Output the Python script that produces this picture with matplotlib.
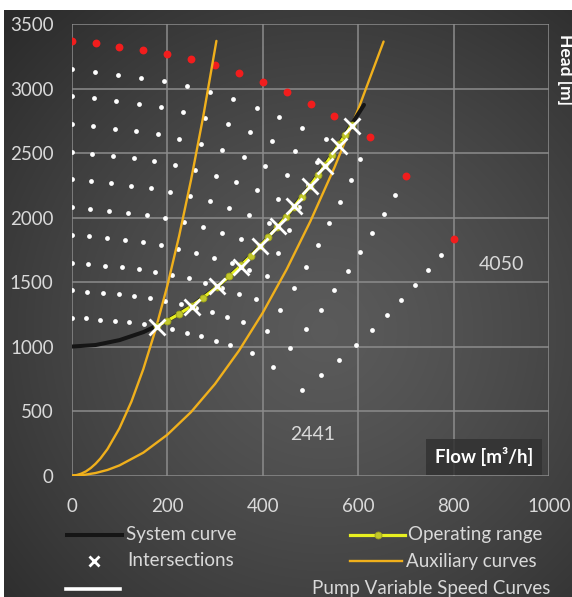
"""
Pump operating range at variable speed: speed curves, system curve,
auxiliary (affinity) parabolas and their intersections.
"""

import numpy as np
import matplotlib
matplotlib.use('Agg')
import matplotlib.pyplot as plt
from matplotlib.lines import Line2D

plt.rcParams['font.family'] = ['Lato', 'DejaVu Sans']

# pump head curves, one row per speed (rpm), top row is the max speed
SPEEDS = [4050, 3916, 3783, 3642, 3495, 3342, 3182, 3013, 2834, 2643, 2441]

PUMP_FLOW = [
    [0, 50, 100, 150, 200, 250, 300, 350, 400, 450, 500, 550, 625, 700, 800],
    [0, 48, 97, 145, 193, 242, 290, 338, 387, 435, 483, 532, 604, 677, 773],
    [0, 47, 93, 140, 187, 234, 280, 327, 374, 420, 467, 514, 584, 654, 747],
    [0, 45, 90, 135, 180, 225, 270, 315, 360, 405, 450, 495, 562, 629, 719],
    [0, 43, 86, 130, 173, 216, 259, 302, 345, 388, 432, 475, 539, 604, 690],
    [0, 41, 83, 124, 165, 206, 248, 289, 330, 371, 413, 454, 516, 578, 660],
    [0, 39, 79, 118, 157, 196, 236, 275, 314, 354, 393, 432, 491, 550, 629],
    [0, 37, 74, 112, 149, 186, 223, 260, 298, 335, 372, 409, 465, 521, 595],
    [0, 35, 70, 105, 140, 175, 210, 245, 280, 315, 350, 385, 437, 490, 560],
    [0, 33, 65, 98, 131, 163, 196, 228, 261, 294, 326, 359, 408, 457, 522],
    [0, 30, 60, 90, 121, 151, 181, 211, 241, 271, 302, 332, 377, 422, 482],
]
PUMP_HEAD = [
    [3370, 3350, 3325, 3300, 3270, 3230, 3180, 3120, 3050, 2970, 2880, 2790, 2625, 2325, 1830],
    [3150, 3131, 3108, 3085, 3056, 3019, 2972, 2916, 2851, 2776, 2692, 2608, 2454, 2173, 1711],
    [2940, 2923, 2901, 2879, 2853, 2818, 2774, 2722, 2661, 2591, 2513, 2434, 2290, 2028, 1596],
    [2725, 2709, 2689, 2668, 2644, 2612, 2571, 2523, 2466, 2402, 2329, 2256, 2123, 1880, 1480],
    [2510, 2495, 2476, 2458, 2435, 2406, 2368, 2324, 2272, 2212, 2145, 2078, 1955, 1732, 1363],
    [2295, 2281, 2264, 2247, 2227, 2200, 2166, 2125, 2077, 2023, 1961, 1900, 1788, 1583, 1246],
    [2080, 2068, 2052, 2037, 2018, 1994, 1963, 1926, 1882, 1833, 1778, 1722, 1620, 1435, 1129],
    [1865, 1854, 1840, 1826, 1810, 1787, 1760, 1727, 1688, 1644, 1594, 1544, 1453, 1287, 1013],
    [1650, 1640, 1628, 1616, 1601, 1581, 1557, 1528, 1493, 1454, 1410, 1366, 1285, 1138, 896],
    [1435, 1426, 1416, 1405, 1392, 1375, 1354, 1328, 1299, 1265, 1226, 1188, 1118, 990, 779],
    [1225, 1218, 1209, 1200, 1189, 1174, 1156, 1134, 1109, 1080, 1047, 1014, 954, 845, 665],
]

# system curve
SYS_FLOW = [0, 50, 100, 150, 200, 250, 300, 350, 400, 450, 500, 550, 612]
SYS_HEAD = [1000, 1012, 1050, 1112, 1200, 1312, 1450, 1612, 1800, 2012, 2250, 2512, 2873]

# operating range along the system curve
OP_FLOW = [178, 200, 225, 251, 275, 305, 330, 355, 375, 394, 412, 430, 448,
           465, 482, 499, 515, 530, 545, 560, 573, 586]
OP_HEAD = [1158, 1200, 1253, 1315, 1378, 1465, 1545, 1630, 1703, 1776, 1849, 1924, 2003,
           2081, 2162, 2245, 2326, 2404, 2485, 2568, 2642, 2717]

# intersections of the system curve with each speed curve
INT_FLOW = [178, 251, 305, 355, 394, 431, 466, 499, 530, 560, 586]
INT_HEAD = [1150, 1310, 1469, 1618, 1779, 1931, 2088, 2247, 2396, 2552, 2712]

# auxiliary parabolas through the origin
AUX1_FLOW = [0, 10, 20, 30, 40, 50, 60, 75, 100, 125, 150, 175, 200, 225, 250, 275, 303]
AUX1_HEAD = [0, 4, 15, 33, 59, 92, 132, 206, 367, 573, 826, 1124, 1468, 1858, 2294, 2775, 3369]
AUX2_FLOW = [0, 25, 50, 75, 100, 150, 200, 250, 300, 350, 400, 450, 500, 550, 600, 653]
AUX2_HEAD = [0, 5, 20, 44, 79, 178, 316, 493, 710, 967, 1262, 1598, 1973, 2387, 2840, 3364]

W, H = 572, 597
TXT = '#d9d9d9'
GOLD = '#f0b01c'
YELLOW = '#e8f020'
FS = 13.5

fig = plt.figure(figsize=(W / 100, H / 100), dpi=100)
fig.patch.set_facecolor('white')

# dark panel with a soft radial gradient
bg = fig.add_axes([4 / W, 0, 1 - 4 / W, 1 - 10 / H])
bg.set_axis_off()
yy, xx = np.mgrid[0:587, 0:568]
d = np.hypot(xx - 320, yy - 320) / 440
d = np.clip(d, 0, 1)
shade = 0.355 - 0.185 * d ** 1.3
bg.imshow(np.dstack([shade] * 3), aspect='auto', extent=[0, 1, 0, 1], interpolation='bilinear')

ax = fig.add_axes([71.7 / W, 1 - 475.6 / H, (549.3 - 71.7) / W, (475.6 - 24) / H])
ax.patch.set_alpha(0)
ax.set_xlim(0, 1000)
ax.set_ylim(0, 3500)
ax.set_xticks(range(0, 1001, 200))
ax.set_yticks(range(0, 3501, 500))
ax.grid(True, color='#8c8c8c', linewidth=1.1)
ax.set_axisbelow(True)
for s in ax.spines.values():
    s.set_visible(False)
ax.tick_params(length=0, labelcolor=TXT, labelsize=13.5)
ax.tick_params(axis='y', pad=13)
ax.tick_params(axis='x', pad=16)

# speed curves as dots, max speed in red
for i, (q, h) in enumerate(zip(PUMP_FLOW, PUMP_HEAD)):
    if i == 0:
        ax.scatter(q, h, s=32, color='#f21d1d', zorder=3, linewidths=0)
    else:
        ax.scatter(q, h, s=12, color='white', zorder=3, linewidths=0)

ax.plot(AUX1_FLOW, AUX1_HEAD, color=GOLD, lw=1.7, zorder=4, solid_capstyle='round')
ax.plot(AUX2_FLOW, AUX2_HEAD, color=GOLD, lw=1.7, zorder=4, solid_capstyle='round')
ax.plot(SYS_FLOW, SYS_HEAD, color='#151515', lw=2.9, zorder=5, solid_capstyle='round')
ax.plot(OP_FLOW, OP_HEAD, color=YELLOW, lw=2.3, zorder=6, marker='o', ms=5,
        mfc='#c2c82a', mec='#9ea21c', mew=0.6)
ax.plot(INT_FLOW, INT_HEAD, ls='none', marker='x', ms=11, mew=2.0, color='white', zorder=7)

ax.text(900, 1634, str(SPEEDS[0]), color=TXT, fontsize=14, ha='center', va='center')
ax.text(505, 315, str(SPEEDS[-1]), color=TXT, fontsize=14, ha='center', va='center')

# axis titles
fig.text(484 / W, 1 - 457 / H, 'Flow [m³/h]', color='white', fontsize=13.5, fontweight='bold',
         ha='center', va='center',
         bbox=dict(facecolor='#323232', edgecolor='none', alpha=0.85, boxstyle='square,pad=0.45'))
fig.text(565 / W, 1 - 70 / H, 'Head [m]', color='white', fontsize=12.5, fontweight='bold',
         rotation=270, ha='center', va='center')

# legend block


def fx(px):
    return px / W


def fy(py):
    return 1 - py / H


fig.add_artist(Line2D([fx(67), fx(122)], [fy(534.5)] * 2, color='#151515', lw=2.9))
fig.text(fx(126), fy(534.5), 'System curve', color=TXT, fontsize=FS, va='center')
fig.add_artist(Line2D([fx(94)], [fy(561)], ls='none', marker='x', ms=7, mew=2, color='white'))
fig.text(fx(127), fy(561), 'Intersections', color=TXT, fontsize=FS, va='center')
fig.add_artist(Line2D([fx(66), fx(120)], [fy(588.5)] * 2, color='white', lw=2.6))

fig.add_artist(Line2D([fx(350), fx(405)], [fy(534.5)] * 2, color=YELLOW, lw=2.3))
fig.add_artist(Line2D([fx(377.5)], [fy(534.5)], ls='none', marker='o', ms=5,
                      mfc='#c2c82a', mec='#9ea21c', mew=0.6))
fig.text(fx(408), fy(534.5), 'Operating range', color=TXT, fontsize=FS, va='center')
fig.add_artist(Line2D([fx(350), fx(402)], [fy(561)] * 2, color=GOLD, lw=1.7))
fig.text(fx(406), fy(561), 'Auxiliary curves', color=TXT, fontsize=FS, va='center')
fig.text(fx(550), fy(588.5), 'Pump Variable Speed Curves', color=TXT, fontsize=FS,
         va='center', ha='right')

fig.savefig('out.png', dpi=100, facecolor=fig.get_facecolor())
